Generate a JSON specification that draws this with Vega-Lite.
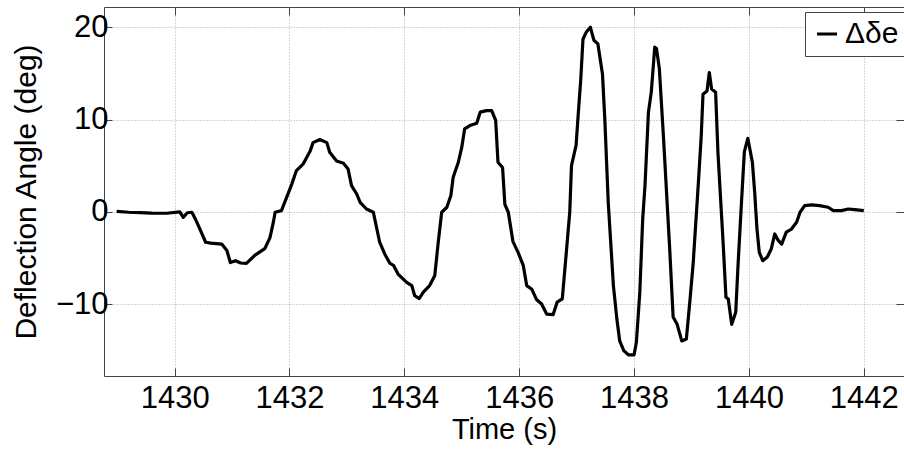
{
  "$schema": "https://vega.github.io/schema/vega-lite/v6.json",
  "width": 800,
  "height": 369,
  "autosize": {"type": "none"},
  "padding": {"left": 104, "top": 7, "right": 0, "bottom": 74},
  "background": "white",
  "config": {
    "view": {"stroke": "#444", "strokeWidth": 1},
    "axis": {
      "domain": false,
      "gridColor": "#aaa",
      "gridDash": [1, 2],
      "gridWidth": 1,
      "gridOpacity": 1,
      "tickColor": "#444",
      "tickSize": -8,
      "labelFont": "Liberation Sans",
      "labelFontSize": 31,
      "labelColor": "black",
      "titleFont": "Liberation Sans",
      "titleFontSize": 30,
      "titleFontWeight": "normal",
      "titleColor": "black"
    }
  },
  "data": {"values": [
    {"t": 1428.99, "v": 0.05, "series": "Δδe"},
    {"t": 1429.20, "v": -0.05, "series": "Δδe"},
    {"t": 1429.40, "v": -0.1, "series": "Δδe"},
    {"t": 1429.60, "v": -0.15, "series": "Δδe"},
    {"t": 1429.86, "v": -0.16, "series": "Δδe"},
    {"t": 1430.09, "v": 0.0, "series": "Δδe"},
    {"t": 1430.15, "v": -0.6, "series": "Δδe"},
    {"t": 1430.22, "v": -0.1, "series": "Δδe"},
    {"t": 1430.30, "v": -0.05, "series": "Δδe"},
    {"t": 1430.37, "v": -0.9, "series": "Δδe"},
    {"t": 1430.44, "v": -1.87, "series": "Δδe"},
    {"t": 1430.54, "v": -3.3, "series": "Δδe"},
    {"t": 1430.63, "v": -3.4, "series": "Δδe"},
    {"t": 1430.82, "v": -3.5, "series": "Δδe"},
    {"t": 1430.91, "v": -4.2, "series": "Δδe"},
    {"t": 1430.97, "v": -5.5, "series": "Δδe"},
    {"t": 1431.06, "v": -5.3, "series": "Δδe"},
    {"t": 1431.15, "v": -5.55, "series": "Δδe"},
    {"t": 1431.25, "v": -5.6, "series": "Δδe"},
    {"t": 1431.40, "v": -4.7, "series": "Δδe"},
    {"t": 1431.57, "v": -4.0, "series": "Δδe"},
    {"t": 1431.66, "v": -2.8, "series": "Δδe"},
    {"t": 1431.72, "v": -1.1, "series": "Δδe"},
    {"t": 1431.75, "v": -0.05, "series": "Δδe"},
    {"t": 1431.86, "v": 0.13, "series": "Δδe"},
    {"t": 1431.95, "v": 1.57, "series": "Δδe"},
    {"t": 1432.04, "v": 3.0, "series": "Δδe"},
    {"t": 1432.12, "v": 4.47, "series": "Δδe"},
    {"t": 1432.24, "v": 5.2, "series": "Δδe"},
    {"t": 1432.36, "v": 6.6, "series": "Δδe"},
    {"t": 1432.41, "v": 7.5, "series": "Δδe"},
    {"t": 1432.53, "v": 7.83, "series": "Δδe"},
    {"t": 1432.65, "v": 7.5, "series": "Δδe"},
    {"t": 1432.70, "v": 6.45, "series": "Δδe"},
    {"t": 1432.82, "v": 5.5, "series": "Δδe"},
    {"t": 1432.94, "v": 5.26, "series": "Δδe"},
    {"t": 1433.02, "v": 4.64, "series": "Δδe"},
    {"t": 1433.08, "v": 2.84, "series": "Δδe"},
    {"t": 1433.17, "v": 1.93, "series": "Δδe"},
    {"t": 1433.23, "v": 1.03, "series": "Δδe"},
    {"t": 1433.34, "v": 0.3, "series": "Δδe"},
    {"t": 1433.46, "v": -0.05, "series": "Δδe"},
    {"t": 1433.57, "v": -3.3, "series": "Δδe"},
    {"t": 1433.66, "v": -4.6, "series": "Δδe"},
    {"t": 1433.75, "v": -5.6, "series": "Δδe"},
    {"t": 1433.81, "v": -5.8, "series": "Δδe"},
    {"t": 1433.89, "v": -6.75, "series": "Δδe"},
    {"t": 1434.04, "v": -7.65, "series": "Δδe"},
    {"t": 1434.13, "v": -8.0, "series": "Δδe"},
    {"t": 1434.18, "v": -9.1, "series": "Δδe"},
    {"t": 1434.26, "v": -9.4, "series": "Δδe"},
    {"t": 1434.33, "v": -8.7, "series": "Δδe"},
    {"t": 1434.44, "v": -8.0, "series": "Δδe"},
    {"t": 1434.53, "v": -6.9, "series": "Δδe"},
    {"t": 1434.59, "v": -3.3, "series": "Δδe"},
    {"t": 1434.65, "v": -0.05, "series": "Δδe"},
    {"t": 1434.74, "v": 0.49, "series": "Δδe"},
    {"t": 1434.81, "v": 1.76, "series": "Δδe"},
    {"t": 1434.85, "v": 3.74, "series": "Δδe"},
    {"t": 1434.94, "v": 5.37, "series": "Δδe"},
    {"t": 1435.00, "v": 7.0, "series": "Δδe"},
    {"t": 1435.05, "v": 9.0, "series": "Δδe"},
    {"t": 1435.14, "v": 9.35, "series": "Δδe"},
    {"t": 1435.26, "v": 9.6, "series": "Δδe"},
    {"t": 1435.32, "v": 10.8, "series": "Δδe"},
    {"t": 1435.43, "v": 10.97, "series": "Δδe"},
    {"t": 1435.52, "v": 10.97, "series": "Δδe"},
    {"t": 1435.59, "v": 9.9, "series": "Δδe"},
    {"t": 1435.63, "v": 5.37, "series": "Δδe"},
    {"t": 1435.71, "v": 4.8, "series": "Δδe"},
    {"t": 1435.75, "v": 0.8, "series": "Δδe"},
    {"t": 1435.81, "v": -0.05, "series": "Δδe"},
    {"t": 1435.89, "v": -3.2, "series": "Δδe"},
    {"t": 1435.98, "v": -4.4, "series": "Δδe"},
    {"t": 1436.07, "v": -5.8, "series": "Δδe"},
    {"t": 1436.13, "v": -8.0, "series": "Δδe"},
    {"t": 1436.22, "v": -8.4, "series": "Δδe"},
    {"t": 1436.30, "v": -9.5, "series": "Δδe"},
    {"t": 1436.39, "v": -10.0, "series": "Δδe"},
    {"t": 1436.48, "v": -11.1, "series": "Δδe"},
    {"t": 1436.59, "v": -11.15, "series": "Δδe"},
    {"t": 1436.66, "v": -9.8, "series": "Δδe"},
    {"t": 1436.75, "v": -9.45, "series": "Δδe"},
    {"t": 1436.82, "v": -4.4, "series": "Δδe"},
    {"t": 1436.88, "v": -0.05, "series": "Δδe"},
    {"t": 1436.91, "v": 5.0, "series": "Δδe"},
    {"t": 1436.99, "v": 7.2, "series": "Δδe"},
    {"t": 1437.03, "v": 10.8, "series": "Δδe"},
    {"t": 1437.07, "v": 14.2, "series": "Δδe"},
    {"t": 1437.11, "v": 18.7, "series": "Δδe"},
    {"t": 1437.17, "v": 19.5, "series": "Δδe"},
    {"t": 1437.24, "v": 20.0, "series": "Δδe"},
    {"t": 1437.30, "v": 18.6, "series": "Δδe"},
    {"t": 1437.37, "v": 18.2, "series": "Δδe"},
    {"t": 1437.45, "v": 14.9, "series": "Δδe"},
    {"t": 1437.49, "v": 10.1, "series": "Δδe"},
    {"t": 1437.55, "v": 1.03, "series": "Δδe"},
    {"t": 1437.64, "v": -8.0, "series": "Δδe"},
    {"t": 1437.70, "v": -11.6, "series": "Δδe"},
    {"t": 1437.75, "v": -14.0, "series": "Δδe"},
    {"t": 1437.82, "v": -15.05, "series": "Δδe"},
    {"t": 1437.90, "v": -15.5, "series": "Δδe"},
    {"t": 1438.00, "v": -15.5, "series": "Δδe"},
    {"t": 1438.04, "v": -14.15, "series": "Δδe"},
    {"t": 1438.10, "v": -8.7, "series": "Δδe"},
    {"t": 1438.15, "v": -0.8, "series": "Δδe"},
    {"t": 1438.19, "v": 2.84, "series": "Δδe"},
    {"t": 1438.25, "v": 10.8, "series": "Δδe"},
    {"t": 1438.30, "v": 13.0, "series": "Δδe"},
    {"t": 1438.36, "v": 17.85, "series": "Δδe"},
    {"t": 1438.39, "v": 17.7, "series": "Δδe"},
    {"t": 1438.44, "v": 15.5, "series": "Δδe"},
    {"t": 1438.51, "v": 8.3, "series": "Δδe"},
    {"t": 1438.62, "v": -4.0, "series": "Δδe"},
    {"t": 1438.68, "v": -11.4, "series": "Δδe"},
    {"t": 1438.75, "v": -12.2, "series": "Δδe"},
    {"t": 1438.83, "v": -14.0, "series": "Δδe"},
    {"t": 1438.91, "v": -13.8, "series": "Δδe"},
    {"t": 1438.97, "v": -9.8, "series": "Δδe"},
    {"t": 1439.03, "v": -5.5, "series": "Δδe"},
    {"t": 1439.12, "v": 3.2, "series": "Δδe"},
    {"t": 1439.17, "v": 8.3, "series": "Δδe"},
    {"t": 1439.20, "v": 12.75, "series": "Δδe"},
    {"t": 1439.27, "v": 13.1, "series": "Δδe"},
    {"t": 1439.31, "v": 15.1, "series": "Δδe"},
    {"t": 1439.35, "v": 13.3, "series": "Δδe"},
    {"t": 1439.42, "v": 12.96, "series": "Δδe"},
    {"t": 1439.46, "v": 6.45, "series": "Δδe"},
    {"t": 1439.55, "v": -3.3, "series": "Δδe"},
    {"t": 1439.60, "v": -9.27, "series": "Δδe"},
    {"t": 1439.64, "v": -9.45, "series": "Δδe"},
    {"t": 1439.70, "v": -12.2, "series": "Δδe"},
    {"t": 1439.77, "v": -10.9, "series": "Δδe"},
    {"t": 1439.81, "v": -5.8, "series": "Δδe"},
    {"t": 1439.87, "v": 1.03, "series": "Δδe"},
    {"t": 1439.92, "v": 6.5, "series": "Δδe"},
    {"t": 1439.98, "v": 7.97, "series": "Δδe"},
    {"t": 1440.06, "v": 5.37, "series": "Δδe"},
    {"t": 1440.10, "v": 2.1, "series": "Δδe"},
    {"t": 1440.14, "v": -1.87, "series": "Δδe"},
    {"t": 1440.18, "v": -4.4, "series": "Δδe"},
    {"t": 1440.24, "v": -5.3, "series": "Δδe"},
    {"t": 1440.32, "v": -4.9, "series": "Δδe"},
    {"t": 1440.39, "v": -4.0, "series": "Δδe"},
    {"t": 1440.45, "v": -2.4, "series": "Δδe"},
    {"t": 1440.51, "v": -3.1, "series": "Δδe"},
    {"t": 1440.57, "v": -3.5, "series": "Δδe"},
    {"t": 1440.65, "v": -2.2, "series": "Δδe"},
    {"t": 1440.74, "v": -1.87, "series": "Δδe"},
    {"t": 1440.83, "v": -1.14, "series": "Δδe"},
    {"t": 1440.89, "v": -0.05, "series": "Δδe"},
    {"t": 1440.97, "v": 0.67, "series": "Δδe"},
    {"t": 1441.09, "v": 0.74, "series": "Δδe"},
    {"t": 1441.23, "v": 0.67, "series": "Δδe"},
    {"t": 1441.38, "v": 0.49, "series": "Δδe"},
    {"t": 1441.47, "v": 0.13, "series": "Δδe"},
    {"t": 1441.61, "v": 0.13, "series": "Δδe"},
    {"t": 1441.73, "v": 0.3, "series": "Δδe"},
    {"t": 1441.84, "v": 0.24, "series": "Δδe"},
    {"t": 1442.00, "v": 0.13, "series": "Δδe"}
  ]},
  "layer": [
    {
      "mark": {"type": "line", "color": "black", "strokeWidth": 3.2, "strokeJoin": "round", "clip": true},
      "encoding": {
        "x": {
          "field": "t", "type": "quantitative",
          "scale": {"domain": [1428.77, 1442.7], "nice": false, "zero": false},
          "axis": {"orient": "bottom", "values": [1430, 1432, 1434, 1436, 1438, 1440, 1442], "format": "d", "title": "Time (s)", "titleFontSize": 29, "labelPadding": 15, "titlePadding": 2}
        },
        "y": {
          "field": "v", "type": "quantitative",
          "scale": {"domain": [-17.8, 22.2], "nice": false, "zero": false},
          "axis": {"orient": "left", "values": [-10, 0, 10, 20], "title": "Deflection Angle (deg)", "labelPadding": 4, "titlePadding": 14}
        },
        "color": {
          "field": "series", "type": "nominal",
          "scale": {"range": ["black"]},
          "legend": {
            "orient": "none", "legendX": 701, "legendY": 5, "title": null,
            "symbolType": "stroke", "symbolSize": 400, "symbolStrokeWidth": 3, "symbolStrokeColor": "black",
            "labelFont": "Liberation Sans", "labelFontSize": 30, "labelColor": "black", "labelOffset": 3,
            "strokeColor": "#444", "fillColor": "white", "padding": 7, "cornerRadius": 0
          }
        }
      }
    },
    {
      "mark": {"type": "line", "opacity": 0},
      "encoding": {
        "x": {"field": "t", "type": "quantitative", "axis": {"orient": "top", "values": [1430, 1432, 1434, 1436, 1438, 1440, 1442], "labels": false, "grid": false, "title": null}},
        "y": {"field": "v", "type": "quantitative", "axis": {"orient": "right", "values": [-10, 0, 10, 20], "labels": false, "grid": false, "title": null}}
      }
    }
  ],
  "resolve": {"axis": {"x": "independent", "y": "independent"}}
}
